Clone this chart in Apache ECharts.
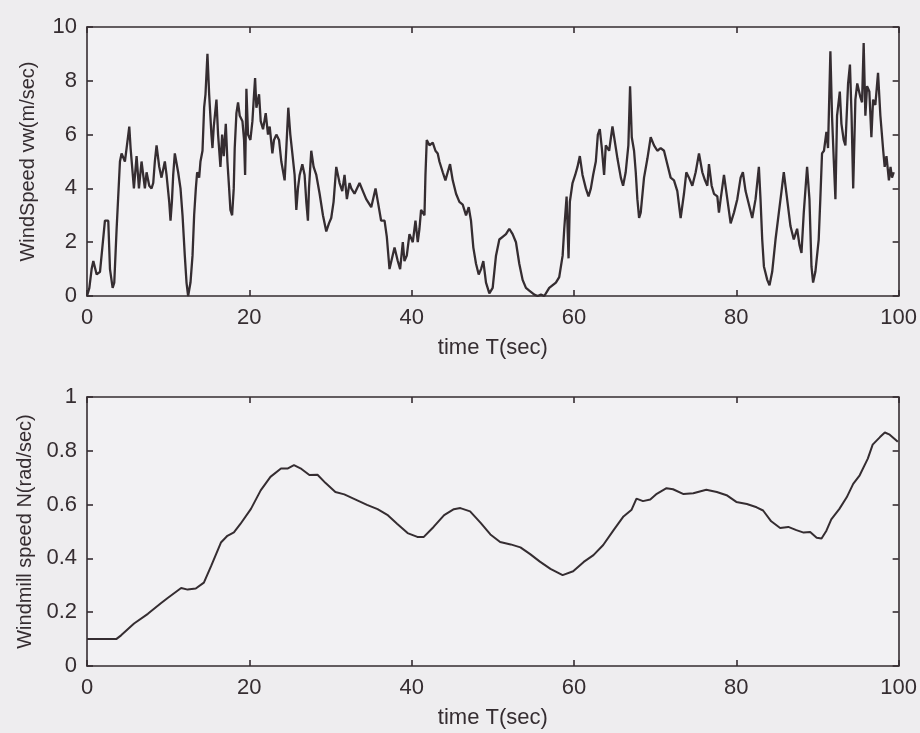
<!DOCTYPE html>
<html>
<head>
<meta charset="utf-8">
<script src="https://cdn.jsdelivr.net/npm/echarts@6/dist/echarts.min.js"></script>
<style>
html,body{margin:0;padding:0;background:#eeedef;}
#chart{width:920px;height:733px;}
</style>
</head>
<body>
<div id="chart"></div>
<script>
// ---- data ----
const windTime = [0,0.29,0.57,0.78,1.19,1.6,1.89,2.21,2.62,2.83,3.16,3.36,3.65,4.06,4.26,4.67,4.88,5.21,5.37,5.78,6.11,6.4,6.72,7.13,7.34,7.67,7.95,8.16,8.36,8.57,8.9,9.18,9.59,9.8,10.13,10.29,10.46,10.62,10.82,11.23,11.52,11.77,12.05,12.26,12.46,12.75,13.0,13.2,13.41,13.57,13.82,13.98,14.23,14.43,14.6,14.84,15.05,15.33,15.46,15.62,15.95,16.15,16.44,16.65,16.85,17.1,17.3,17.51,17.67,17.88,18.08,18.2,18.41,18.61,18.82,19.15,19.35,19.48,19.56,19.64,19.84,20.13,20.38,20.54,20.71,20.87,21.2,21.4,21.69,22.02,22.3,22.51,22.84,23.04,23.33,23.66,23.94,24.35,24.56,24.8,25.05,25.3,25.58,25.79,25.99,26.2,26.53,26.81,27.02,27.22,27.35,27.63,27.92,28.25,28.66,29.07,29.48,29.81,30.09,30.38,30.71,31.12,31.45,31.73,32.02,32.35,32.56,32.96,33.58,33.99,34.4,35.02,35.55,35.84,36.24,36.66,36.94,37.27,37.47,37.89,38.29,38.58,38.91,39.11,39.4,39.73,40.14,40.47,40.75,40.96,41.16,41.58,41.7,41.86,42.19,42.6,42.93,43.21,43.42,43.83,44.16,44.44,44.73,45.06,45.47,45.88,46.29,46.7,47.03,47.31,47.6,47.93,48.26,48.55,48.83,49.16,49.57,49.98,50.39,50.8,51.21,51.62,52.03,52.44,52.85,53.26,53.67,54.08,54.49,55.11,55.52,55.93,56.34,56.95,57.77,58.18,58.6,58.8,59.09,59.33,59.49,59.82,60.15,60.43,60.72,61.05,61.46,61.79,62.08,62.36,62.69,62.94,63.18,63.43,63.71,63.92,64.33,64.74,64.95,65.36,65.77,66.05,66.37,66.7,66.91,67.12,67.4,67.61,67.81,68.02,68.22,68.63,69.04,69.45,69.86,70.27,70.68,71.09,71.5,71.91,72.32,72.73,73.14,73.55,73.84,74.17,74.58,74.99,75.4,75.81,76.14,76.43,76.63,76.96,77.25,77.66,77.86,78.07,78.48,78.89,79.3,79.71,80.12,80.53,80.81,81.14,81.55,81.96,82.37,82.78,82.98,83.19,83.4,83.81,84.09,84.42,84.83,85.24,85.57,85.85,86.26,86.67,87.08,87.49,87.78,88.03,88.31,88.72,89.01,89.26,89.46,89.74,90.15,90.35,90.56,90.8,91.1,91.3,91.59,91.79,92.0,92.21,92.41,92.75,92.95,93.23,93.44,93.77,94.0,94.2,94.4,94.67,94.9,95.28,95.49,95.69,95.9,96.11,96.39,96.64,96.85,97.13,97.46,97.75,98.1,98.28,98.5,98.8,99.0,99.18,99.4,99.6,99.8,100];
const windSpeed = [0,0.3,1.0,1.3,0.8,0.9,1.8,2.8,2.8,1.0,0.3,0.5,2.5,5.0,5.3,5.0,5.5,6.3,5.5,4.0,5.2,4.0,5.0,4.0,4.6,4.1,4.0,4.2,5.0,5.6,4.8,4.4,5.0,4.5,3.5,2.8,3.5,4.5,5.3,4.6,4.0,3.0,1.5,0.5,0.0,0.5,1.5,3.0,4.0,4.6,4.4,5.0,5.4,7.0,7.5,9.0,7.5,6.0,5.5,6.3,7.3,6.0,4.8,6.0,5.2,6.4,5.0,4.0,3.2,3.0,4.0,5.5,6.8,7.2,6.7,6.5,5.8,4.5,6.0,7.7,6.0,5.8,6.5,7.3,8.1,7.0,7.5,6.5,6.2,6.8,6.0,6.3,5.3,5.8,6.0,5.8,5.0,4.3,5.5,7.0,6.0,5.3,4.5,3.2,4.0,4.5,4.9,4.5,3.5,2.8,4.0,5.4,4.8,4.5,3.8,3.0,2.4,2.7,2.9,3.5,4.8,4.2,3.9,4.5,3.6,4.2,4.0,3.8,4.2,3.9,3.6,3.3,4.0,3.5,2.8,2.8,2.2,1.0,1.0,1.8,1.3,1.0,2.0,1.3,1.5,2.3,2.0,2.8,2.0,2.5,3.2,3.0,4.5,5.8,5.6,5.7,5.4,5.3,5.0,4.6,4.3,4.6,4.9,4.3,3.8,3.5,3.4,3.0,3.3,2.8,1.8,1.2,0.8,1.0,1.3,0.5,0.1,0.3,1.5,2.1,2.2,2.3,2.5,2.3,2.0,1.2,0.6,0.3,0.2,0.05,0.0,0.05,0.0,0.3,0.5,0.7,1.5,2.5,3.7,1.4,3.5,4.2,4.5,4.8,5.2,4.5,4.0,3.7,4.0,4.5,5.0,6.0,6.2,5.5,4.5,5.6,5.4,6.3,5.9,5.1,4.4,4.1,4.6,5.6,7.8,5.9,5.4,4.6,3.6,2.9,3.1,4.4,5.1,5.9,5.6,5.4,5.5,5.4,4.9,4.4,4.3,3.9,2.9,3.8,4.6,4.4,4.1,4.6,5.3,4.6,4.3,4.1,4.9,4.1,3.8,3.7,3.1,3.6,4.5,3.6,2.7,3.1,3.6,4.4,4.6,3.9,3.4,2.9,3.6,4.8,3.6,2.1,1.1,0.6,0.4,0.9,2.1,3.1,3.9,4.6,3.6,2.6,2.1,2.5,1.9,1.6,3.1,4.8,3.6,1.1,0.5,0.9,2.1,3.6,5.3,5.4,6.1,5.5,9.1,6.7,5.1,3.6,6.7,7.6,6.4,5.8,5.6,7.9,8.6,6.7,4.0,7.3,7.9,7.4,7.2,9.4,6.7,7.8,7.6,5.9,7.3,7.1,8.3,6.7,5.4,4.8,5.2,4.3,4.8,4.4,4.6];

const millTime = [0,3.6,4.2,5.8,7.5,9.1,9.9,11.6,12.4,13.4,14.4,15.3,16.5,17.3,18.1,18.9,20.2,21.4,22.6,23.9,24.7,25.5,26.3,27.4,28.4,29.4,30.6,31.7,33.3,34.5,35.8,37.0,38.2,39.5,40.7,41.5,42.7,44.0,45.2,46.0,47.2,48.5,49.7,50.9,52.2,53.4,54.6,55.8,57.1,58.6,59.9,61.2,62.4,63.6,64.9,66.1,67.1,67.7,68.5,69.4,70.2,71.4,72.2,73.5,74.7,76.3,77.6,78.8,80.0,81.3,82.5,83.3,84.3,85.4,86.4,87.4,88.3,89.1,89.9,90.5,91.1,91.7,92.7,93.6,94.4,95.2,96.2,96.8,97.7,98.3,98.9,99.9];
const millSpeed = [0.1,0.1,0.114,0.158,0.194,0.233,0.252,0.29,0.284,0.288,0.31,0.372,0.459,0.484,0.497,0.528,0.584,0.653,0.703,0.734,0.734,0.747,0.735,0.71,0.711,0.68,0.647,0.638,0.616,0.599,0.583,0.562,0.529,0.494,0.48,0.48,0.517,0.561,0.583,0.587,0.575,0.532,0.489,0.461,0.452,0.441,0.416,0.388,0.361,0.338,0.352,0.387,0.412,0.45,0.506,0.556,0.581,0.622,0.613,0.619,0.64,0.661,0.657,0.639,0.642,0.655,0.647,0.635,0.61,0.602,0.59,0.578,0.538,0.513,0.517,0.505,0.496,0.498,0.477,0.474,0.503,0.545,0.584,0.627,0.677,0.709,0.771,0.823,0.851,0.868,0.86,0.834];

const timeTicks = [0, 20, 40, 60, 80, 100];
const windTicks = [0, 2, 4, 6, 8, 10];
const millTicks = [0, 0.2, 0.4, 0.6, 0.8, 1];

const xTitle = 'time T(sec)';
const windTitle = 'WindSpeed vw(m/sec)';
const millTitle = 'Windmill speed N(rad/sec)';

// ---- chart ----
const ink = '#352d31';
const font = "'Liberation Sans', Arial, sans-serif";
const fsH = 22;   // horizontal text (scan is slightly stretched horizontally)
const fsV = 20;   // rotated axis titles

function zip(a, b) { return a.map((v, i) => [v, b[i]]); }

function xAxisPair(gi) {
  const base = {
    type: 'value', gridIndex: gi, min: timeTicks[0], max: timeTicks[timeTicks.length - 1], interval: 20,
    axisLine: { show: true, onZero: false, lineStyle: { color: ink, width: 1.6 } },
    axisTick: { show: true, inside: true, length: 6, lineStyle: { color: ink, width: 1.6 } },
    splitLine: { show: false }
  };
  return [
    Object.assign({}, base, {
      position: 'bottom',
      axisLabel: { color: ink, fontSize: fsH, fontFamily: font, margin: 11, showMinLabel: true, showMaxLabel: true },
      name: xTitle, nameLocation: 'middle', nameGap: 41,
      nameTextStyle: { color: ink, fontSize: fsH, fontFamily: font }
    }),
    Object.assign({}, base, { position: 'top', axisLabel: { show: false } })
  ];
}
function yAxisPair(gi, ticks, title, fmt) {
  const base = {
    type: 'value', gridIndex: gi, min: ticks[0], max: ticks[ticks.length - 1], interval: ticks[1] - ticks[0],
    axisLine: { show: true, onZero: false, lineStyle: { color: ink, width: 1.6 } },
    axisTick: { show: true, inside: true, length: 6, lineStyle: { color: ink, width: 1.6 } },
    splitLine: { show: false }
  };
  return [
    Object.assign({}, base, {
      position: 'left',
      axisLabel: { color: ink, fontSize: fsH, fontFamily: font, margin: 10, formatter: fmt },
      name: title, nameLocation: 'middle', nameGap: 49, nameRotate: 90,
      nameTextStyle: { color: ink, fontSize: fsV, fontFamily: font }
    }),
    Object.assign({}, base, { position: 'right', axisLabel: { show: false } })
  ];
}

const chart = echarts.init(document.getElementById('chart'), null, { renderer: 'canvas' });
chart.setOption({
  backgroundColor: '#eeedef',
  animation: false,
  grid: [
    { left: 87, width: 813, top: 27, height: 269, backgroundColor: '#f2f1f3', show: true, borderWidth: 0 },
    { left: 87, width: 813, top: 397, height: 269, backgroundColor: '#f2f1f3', show: true, borderWidth: 0 }
  ],
  xAxis: [].concat(xAxisPair(0), xAxisPair(1)),
  yAxis: [].concat(
    yAxisPair(0, windTicks, windTitle, v => String(v)),
    yAxisPair(1, millTicks, millTitle, v => String(+v.toFixed(1)))
  ),
  series: [
    { type: 'line', xAxisIndex: 0, yAxisIndex: 0, data: zip(windTime, windSpeed), showSymbol: false,
      lineStyle: { color: ink, width: 2.3 } },
    { type: 'line', xAxisIndex: 2, yAxisIndex: 2, data: zip(millTime, millSpeed), showSymbol: false,
      lineStyle: { color: ink, width: 2 } }
  ]
});
</script>
</body>
</html>
